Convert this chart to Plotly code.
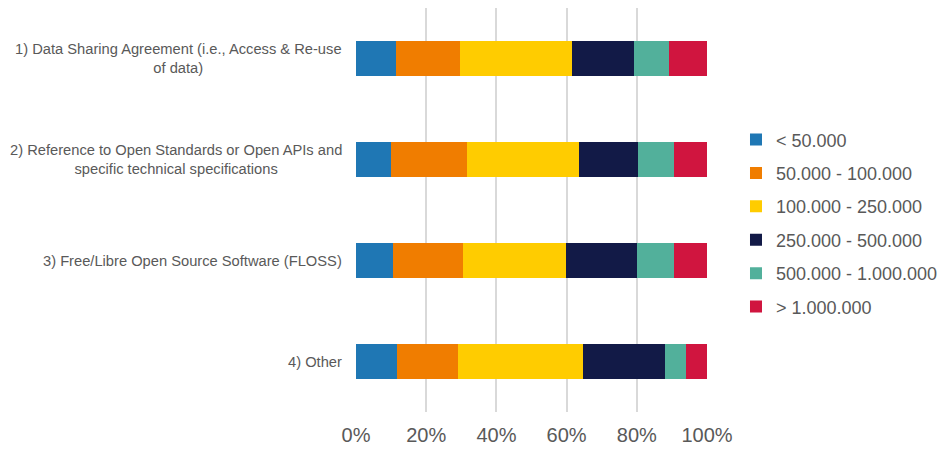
import plotly.graph_objects as go

categories = [
    "1) Data Sharing Agreement (i.e., Access & Re-use<br>of data)",
    "2) Reference to Open Standards or Open APIs and<br>specific technical specifications",
    "3) Free/Libre Open Source Software (FLOSS)",
    "4) Other",
]
series_names = ["< 50.000", "50.000 - 100.000", "100.000 - 250.000",
                "250.000 - 500.000", "500.000 - 1.000.000", "> 1.000.000"]
colors = ["#1f77b4", "#f07d00", "#ffcc00", "#121a47", "#52b09b", "#d0153f"]

# share (%) per category, one list per series
lt_50k = [11.4, 10.0, 10.5, 11.7]
k50_100 = [18.3, 21.6, 20.0, 17.5]
k100_250 = [31.8, 31.9, 29.4, 35.5]
k250_500 = [17.7, 16.7, 20.1, 23.4]
k500_1m = [9.9, 10.3, 10.6, 6.0]
gt_1m = [10.9, 9.5, 9.4, 5.9]
values = [lt_50k, k50_100, k100_250, k250_500, k500_1m, gt_1m]

font_color = "#595959"

fig = go.Figure()
for i, (name, vals) in enumerate(zip(series_names, values)):
    fig.add_trace(go.Bar(y=categories, x=vals, name=name, orientation="h",
                         marker=dict(color=colors[i], line=dict(width=0)),
                         legendgroup=f"g{i}", width=0.35))

for cat in categories:
    fig.add_annotation(x=0, y=cat, xref="paper", yref="y", text=cat,
                       showarrow=False, xanchor="right", align="center",
                       xshift=-12,
                       font=dict(size=14.7, color=font_color))

# page body adds an 8px margin, so the figure is a bit smaller than the window
fig.update_layout(
    barmode="stack",
    width=942, height=445,
    margin=dict(l=348, r=243, t=0, b=41, autoexpand=False),
    plot_bgcolor="white", paper_bgcolor="white",
    font=dict(family="Liberation Sans, Arial, sans-serif", color=font_color),
    legend=dict(x=1.0826, y=0.467, xanchor="left", yanchor="middle",
                traceorder="grouped", tracegroupgap=7, itemwidth=30,
                font=dict(size=18, color=font_color)),
)
fig.update_xaxes(range=[0, 100], tickvals=[0, 20, 40, 60, 80, 100],
                 ticktext=["0%", "20%", "40%", "60%", "80%", "100%"],
                 showgrid=True, gridcolor="#d9d9d9", gridwidth=2,
                 zeroline=False, tickfont=dict(size=20, color=font_color),
                 ticks="", ticklen=0, ticklabelstandoff=9)
fig.update_yaxes(autorange="reversed", showticklabels=False, showgrid=False,
                 zeroline=False)

fig.write_html("out.html")
